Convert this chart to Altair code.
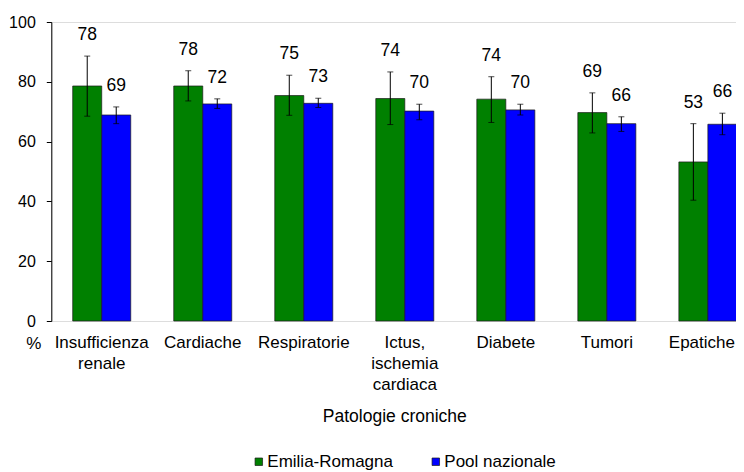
import altair as alt
import pandas as pd

categories = ["Insufficienza renale", "Cardiache", "Respiratorie",
              "Ictus, ischemia cardiaca", "Diabete", "Tumori", "Epatiche"]
series = ["Emilia-Romagna", "Pool nazionale"]
colors = ["#008000", "#0000FF"]

er_values = [78.6, 78.6, 75.4, 74.4, 74.2, 69.7, 53.2]
pool_values = [68.9, 72.6, 72.8, 70.2, 70.6, 66.0, 65.8]
er_low = [68.5, 73.6, 68.8, 65.7, 66.4, 62.9, 40.4]
er_high = [88.6, 83.7, 82.2, 83.3, 81.7, 76.3, 66.0]
pool_low = [66.0, 71.1, 71.4, 67.3, 68.9, 63.4, 62.3]
pool_high = [71.6, 74.3, 74.5, 72.5, 72.5, 68.3, 69.5]
er_labels = ["78", "78", "75", "74", "74", "69", "53"]
pool_labels = ["69", "72", "73", "70", "70", "66", "66"]

rows = []
for i, c in enumerate(categories):
    rows.append({"categoria": c, "serie": series[0], "valore": er_values[i],
                 "lo": er_low[i], "hi": er_high[i], "etichetta": er_labels[i]})
    rows.append({"categoria": c, "serie": series[1], "valore": pool_values[i],
                 "lo": pool_low[i], "hi": pool_high[i], "etichetta": pool_labels[i]})
df = pd.DataFrame(rows)

FONT = "Liberation Sans"

x_enc = alt.X("categoria:N", sort=categories,
              scale=alt.Scale(range=[0, 707], paddingInner=0.4257, paddingOuter=0.212),
              axis=alt.Axis(title="Patologie croniche", labelAngle=0, domain=False, ticks=False,
                            labelExpr="split(datum.label, ' ')", labelFontSize=17,
                            labelOffset={"condition": {"test": "datum.label == 'Epatiche'",
                                                       "value": -6}, "value": 0},
                            labelLineHeight=21, labelPadding=13, labelColor="#000000",
                            labelFont=FONT, titleFont=FONT, titleFontSize=17.5,
                            titleFontWeight="normal", titleColor="#000000",
                            titleX=343, titleAlign="center",
                            titleY=95, titleBaseline="middle"))
xo_enc = alt.XOffset("serie:N", sort=series, scale=alt.Scale(paddingInner=0, paddingOuter=0))

base = alt.Chart(df)

bars = base.mark_bar(stroke="#1a1a1a", strokeWidth=0.7).encode(
    x=x_enc,
    xOffset=xo_enc,
    y=alt.Y("valore:Q", scale=alt.Scale(domain=[0, 100]),
            axis=alt.Axis(values=[0, 20, 40, 60, 80, 100], grid=False, tickSize=5,
                          labelPadding=11, labelFontSize=16, labelFont=FONT,
                          labelColor="#000000", domainColor="#000000", tickColor="#000000",
                          title="%", titleAngle=0, titleX=-18, titleY=321,
                          titleAlign="center", titleBaseline="middle", titleFontSize=17,
                          titleFont=FONT, titleFontWeight="normal", titleColor="#000000")),
    color=alt.Color("serie:N", sort=series, scale=alt.Scale(domain=series, range=colors),
                    legend=alt.Legend(title=None, orient="none", legendX=199, legendY=431,
                                      direction="horizontal", symbolType="square",
                                      symbolSize=56, symbolStrokeColor="#1a1a1a",
                                      symbolStrokeWidth=0.7, labelFontSize=17,
                                      labelFont=FONT, labelColor="#000000",
                                      labelOffset=0, columnPadding=34)),
)

rules = base.mark_rule(color="#000000", strokeWidth=1).encode(
    x=x_enc, xOffset=xo_enc, y="lo:Q", y2="hi:Q")
caps_hi = base.mark_tick(color="#000000", thickness=1, size=6).encode(
    x=x_enc, xOffset=xo_enc, y="hi:Q")
caps_lo = base.mark_tick(color="#000000", thickness=1, size=6).encode(
    x=x_enc, xOffset=xo_enc, y="lo:Q")
labels = base.mark_text(font=FONT, fontSize=17.5, dy=-21, baseline="middle",
                        color="#000000").encode(
    x=x_enc, xOffset=xo_enc, y="hi:Q", text="etichetta:N")

chart = alt.layer(bars, rules, caps_hi, caps_lo, labels).properties(
    width=684.7, height=299,
    autosize=alt.AutoSizeParams(type="none"),
    padding={"left": 43.3, "top": 14, "right": 0, "bottom": 150},
).configure_view(strokeWidth=0).configure(font=FONT)

chart.save("out.html", embed_options={"renderer": "svg", "actions": False})
